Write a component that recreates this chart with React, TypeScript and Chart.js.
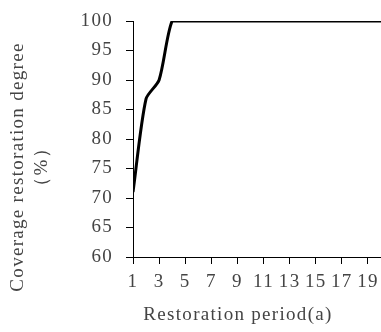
import React, { useEffect, useRef } from "react";
import { Chart, registerables } from "chart.js";

Chart.register(...registerables);

const years = [1, 2, 3, 4, 5, 6, 7, 8, 9, 10, 11, 12, 13, 14, 15, 16, 17, 18, 19, 20];
const coverage = [71, 86.8, 90, 100, 100, 100, 100, 100, 100, 100, 100, 100, 100, 100, 100, 100, 100, 100, 100, 100];
const xTickValues = [1, 3, 5, 7, 9, 11, 13, 15, 17, 19];
const yTitle = ["Coverage restoration degree", "（%）"];
const xTitle = "Restoration period(a)";

const FAMILY = "'Liberation Serif', 'Times New Roman', serif";
const SIZE = 19;
const SPACING = "1.3px";
const TEXT = "#444";

const spacingPlugin = {
  id: "spacing",
  beforeUpdate(chart: any) {
    chart.ctx.letterSpacing = SPACING;
  },
  beforeDraw(chart: any) {
    chart.ctx.letterSpacing = SPACING;
  },
};

const titlePlugin = {
  id: "titles",
  afterDraw(chart: any) {
    const ctx = chart.ctx as CanvasRenderingContext2D;
    ctx.save();
    (ctx as any).letterSpacing = SPACING;
    ctx.fillStyle = TEXT;
    ctx.font = `${SIZE}px ${FAMILY}`;
    ctx.textAlign = "center";
    ctx.textBaseline = "middle";
    ctx.fillText(xTitle, 238, 315);
    const cy = 167;
    const xs = [18, 42];
    yTitle.forEach((t, i) => {
      ctx.save();
      ctx.translate(xs[i], cy);
      ctx.rotate(-Math.PI / 2);
      ctx.fillText(t, 0, 0);
      ctx.restore();
    });
    ctx.restore();
  },
};

export default function App() {
  const ref = useRef<HTMLCanvasElement>(null);
  useEffect(() => {
    const font = { family: FAMILY, size: SIZE };
    const chart = new Chart(ref.current!, {
      type: "line",
      data: {
        datasets: [
          {
            data: years.map((x, i) => ({ x, y: coverage[i] })),
            borderColor: "#000",
            borderWidth: 3,
            pointRadius: 0,
            tension: 0.25,
            fill: false,
          },
        ],
      },
      plugins: [spacingPlugin, titlePlugin],
      options: {
        animation: false,
        responsive: false,
        layout: { padding: { top: 21, right: 0, left: 0, bottom: 0 } },
        plugins: { legend: { display: false }, tooltip: { enabled: false } },
        scales: {
          x: {
            type: "linear",
            min: 1,
            max: 20,
            afterBuildTicks: (axis: any) => {
              axis.ticks = xTickValues.map((v) => ({ value: v }));
            },
            afterFit: (axis: any) => {
              axis.height = 332 - 257;
              axis.paddingLeft = 0;
              axis.paddingRight = 0;
            },
            grid: { drawOnChartArea: false, drawTicks: true, tickLength: 7, color: "#000" },
            border: { display: true, color: "#000", width: 1 },
            ticks: { color: TEXT, font, padding: 7, maxRotation: 0, autoSkip: false },
          },
          y: {
            min: 60,
            max: 100,
            afterFit: (axis: any) => {
              axis.width = 133;
              axis.paddingTop = 0;
              axis.paddingBottom = 0;
            },
            grid: { drawOnChartArea: false, drawTicks: true, tickLength: 7, color: "#000" },
            border: { display: true, color: "#000", width: 1 },
            ticks: { stepSize: 5, color: TEXT, font, padding: 13 },
          },
        },
      },
    });
    return () => chart.destroy();
  }, []);
  return (
    <div style={{ position: "fixed", left: 0, top: 0, width: 381, height: 332, background: "#fff" }}>
      <canvas ref={ref} width={381} height={332} />
    </div>
  );
}
